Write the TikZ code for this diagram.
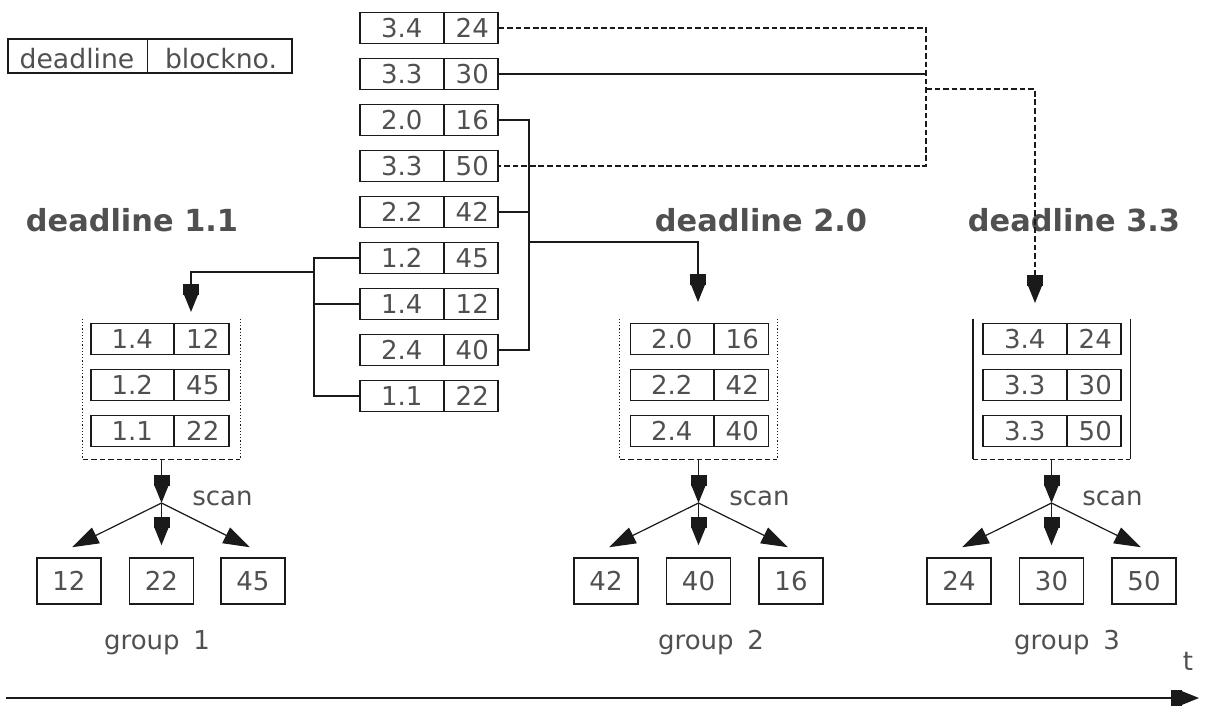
\documentclass[tikz,border=0pt]{standalone}
\usepackage{fontspec}
\setmainfont{DejaVu Sans}
\usetikzlibrary{arrows.meta,calc}
\definecolor{txt}{HTML}{505050}
\definecolor{ln}{HTML}{1A1A1A}
\tikzset{
  line/.style={draw=ln, line width=1.15pt},
  thinline/.style={draw=ln, line width=0.9pt},
  dline/.style={line, dash pattern=on 4.2pt off 2.2pt},
  dbottom/.style={draw=ln, line width=1pt, dash pattern=on 4.2pt off 2.2pt},
  dotline/.style={draw=ln, line width=1.1pt, dash pattern=on 0.9pt off 1.5pt},
  tipv/.style={-{Rectangle[length=8pt,width=12pt,sep=-1pt]Triangle[length=14pt,width=11pt]}},
  tipd/.style={-{Triangle[length=20pt,width=13pt]}},
  lbl/.style={text=txt, font=\fontsize{19.5}{22}\selectfont, inner sep=0pt},
  hlbl/.style={text=txt, font=\fontsize{20}{22}\selectfont, inner sep=0pt},
  ttl/.style={text=txt, font=\fontsize{22.8}{26}\selectfont\bfseries, inner sep=0pt},
  rec/.style={draw=ln, line width=1.15pt, minimum width=138*0.75pt, minimum height=31*0.75pt, inner sep=0pt},
  hdr/.style={draw=ln, line width=1pt, minimum width=284*0.75pt, minimum height=34*0.75pt, inner sep=0pt},
  leaf/.style={draw=ln, line width=1.15pt, minimum width=64*0.75pt, minimum height=46*0.75pt, inner sep=0pt, text=txt, font=\fontsize{19.5}{22}\selectfont},
  cont/.style={minimum width=157*0.75pt, minimum height=140*0.75pt, inner sep=0pt},
}
% name, cx, cy, left text, right text, divider offset
\newcommand\recrd[6]{%
  \node[rec] (#1) at (#2,#3) {};
  \draw[line] ($(#1.north west)+(#6,0)$) -- ($(#1.south west)+(#6,0)$);
  \node[lbl] (#1l) at ($(#1.west)+({#6/2},0)$) {#4};
  \node[lbl] (#1r) at ($(#1.east)+({(#6-138)/2},0)$) {#5};
}
\begin{document}
\begin{tikzpicture}[x=0.75pt,y=-0.75pt]
\useasboundingbox (0,0) rectangle (1212,708);

% legend
\node[hdr] (hd) at (150,56) {};
\draw[line] ($(hd.north west)+(140,0)$) -- ($(hd.south west)+(140,0)$);
\node[hlbl, anchor=base] (hdl) at (77,68) {deadline};
\node[hlbl, anchor=base] (hdr) at (221,68) {blockno.};

% central list
\recrd{c1}{429}{28}{3.4}{24}{85}
\recrd{c2}{429}{74}{3.3}{30}{85}
\recrd{c3}{429}{120}{2.0}{16}{85}
\recrd{c4}{429}{166}{3.3}{50}{85}
\recrd{c5}{429}{212}{2.2}{42}{85}
\recrd{c6}{429}{258}{1.2}{45}{85}
\recrd{c7}{429}{304}{1.4}{12}{85}
\recrd{c8}{429}{350}{2.4}{40}{85}
\recrd{c9}{429}{396}{1.1}{22}{85}

% titles
\node[ttl, anchor=base] (t1) at (132,231) {deadline 1.1};
\node[ttl, anchor=base] (t2) at (761,231) {deadline 2.0};
\node[ttl, anchor=base] (t3) at (1074,231) {deadline 3.3};

% containers
\node[cont] (k1) at (161.5,389) {};
\node[cont] (k2) at (698.5,389) {};
\node[cont] (k3) at (1051.5,389) {};
\draw[dotline] (k1.north west) -- (k1.south west);
\draw[dotline] (k1.north east) -- (k1.south east);
\draw[dbottom] (k1.south west) -- (k1.south east);
\draw[dotline] (k2.north west) -- (k2.south west);
\draw[dotline] (k2.north east) -- (k2.south east);
\draw[dbottom] (k2.south west) -- (k2.south east);
\draw[line] (k3.north west) -- (k3.south west);
\draw[line] (k3.north east) -- (k3.south east);
\draw[dbottom] (k3.south west) -- (k3.south east);

\recrd{a1}{160}{339}{1.4}{12}{84}
\recrd{a2}{160}{385}{1.2}{45}{84}
\recrd{a3}{160}{431}{1.1}{22}{84}
\recrd{b1}{699.5}{339}{2.0}{16}{84}
\recrd{b2}{699.5}{385}{2.2}{42}{84}
\recrd{b3}{699.5}{431}{2.4}{40}{84}
\recrd{d1}{1052}{339}{3.4}{24}{85}
\recrd{d2}{1052}{385}{3.3}{30}{85}
\recrd{d3}{1052}{431}{3.3}{50}{85}

% connectors: group 1
\coordinate (jl) at (314,272);
\coordinate (in1) at (191,312);
\draw[line] (c6.west) -- (c6.west -| jl) -- (c9.west -| jl) -- (c9.west);
\draw[line] (c7.west) -- (c7.west -| jl);
\draw[line,tipv] (jl) -| (in1);

% connectors: group 2
\coordinate (jm) at (529,242);
\coordinate (in2) at (698,302);
\draw[line] (c3.east) -- (c3.east -| jm) -- (c8.east -| jm) -- (c8.east);
\draw[line] (c5.east) -- (c5.east -| jm);
\draw[line,tipv] (jm) -| (in2);

% connectors: group 3
\coordinate (jr) at (926,89);
\coordinate (in3) at (1035,303);
\draw[dline] (c1.east) -- (c1.east -| jr) -- (c4.east -| jr) -- (c4.east);
\draw[line] (c2.east) -- (c2.east -| jr);
\draw[dline,tipv] (jr) -| (in3);

% scan arrows
\coordinate (s1) at (161.5,503);
\coordinate (s2) at (698.5,503);
\coordinate (s3) at (1051.5,503);
\draw[line,tipv] (k1.south) -- (s1);
\draw[line,tipv] (k2.south) -- (s2);
\draw[line,tipv] (k3.south) -- (s3);
\node[lbl, anchor=base west] (sc1) at (192,505) {scan};
\node[lbl, anchor=base west] (sc2) at (729,505) {scan};
\node[lbl, anchor=base west] (sc3) at (1082,505) {scan};

% leaves
\node[leaf] (l11) at (69,581) {12};
\node[leaf] (l12) at (161.5,581) {22};
\node[leaf] (l13) at (253,581) {45};
\node[leaf] (l21) at (606,581) {42};
\node[leaf] (l22) at (698.5,581) {40};
\node[leaf] (l23) at (791,581) {16};
\node[leaf] (l31) at (959,581) {24};
\node[leaf] (l32) at (1051.5,581) {30};
\node[leaf] (l33) at (1144,581) {50};

\draw[thinline,tipd] (s1) -- ($(l11.north)+(3,-10)$);
\draw[line,tipv] (s1) -- ($(l12.north)+(0,-12)$);
\draw[thinline,tipd] (s1) -- ($(l13.north)+(-3,-10)$);
\draw[thinline,tipd] (s2) -- ($(l21.north)+(3,-10)$);
\draw[line,tipv] (s2) -- ($(l22.north)+(0,-12)$);
\draw[thinline,tipd] (s2) -- ($(l23.north)+(-3,-10)$);
\draw[thinline,tipd] (s3) -- ($(l31.north)+(3,-10)$);
\draw[line,tipv] (s3) -- ($(l32.north)+(0,-12)$);
\draw[thinline,tipd] (s3) -- ($(l33.north)+(-3,-10)$);

\node[lbl, anchor=base] (g1) at (157,649) {group \hspace{4pt}1};
\node[lbl, anchor=base] (g2) at (711,649) {group \hspace{4pt}2};
\node[lbl, anchor=base] (g3) at (1067,649) {group \hspace{4pt}3};

% time axis
\coordinate (ta) at (6,698);
\coordinate (tb) at (1199,698);
\draw[line,tipv] (ta) -- (tb);
\node[lbl, anchor=base] (tt) at (1188,670) {t};
\end{tikzpicture}
\end{document}
